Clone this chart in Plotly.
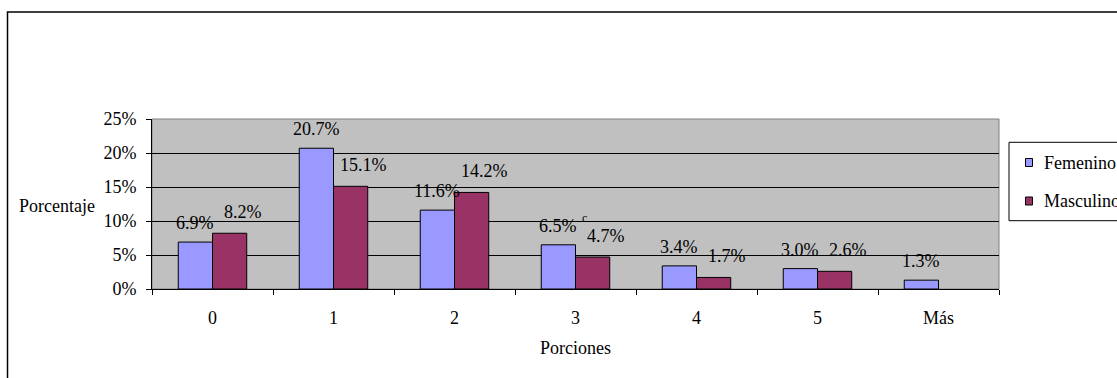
import plotly.graph_objects as go

categories = ["0", "1", "2", "3", "4", "5", "Más"]
femenino = [6.9, 20.7, 11.6, 6.5, 3.4, 3.0, 1.3]
masculino = [8.2, 15.1, 14.2, 4.7, 1.7, 2.6, None]
series_names = ["Femenino", "Masculino"]
y_ticks = [0, 5, 10, 15, 20, 25]
y_tick_labels = [f"{v}%" for v in y_ticks]

W, H = 1117, 378
L, R, T, B = 152, 118, 119, 89
PW, PH = W - L - R, H - T - B
FONT = "Liberation Serif, Times New Roman, serif"
FS = 18
C_FEM = "#9999FF"
C_MAS = "#993366"


def px_x(px):
    return (px - L) / PW


def px_y(py):
    return (H - B - py) / PH


fig = go.Figure()
fig.add_trace(go.Bar(x=categories, y=femenino, name=series_names[0],
                     marker=dict(color=C_FEM, line=dict(color="black", width=1)),
                     showlegend=False, hoverinfo="x+y"))
fig.add_trace(go.Bar(x=categories, y=masculino, name=series_names[1],
                     marker=dict(color=C_MAS, line=dict(color="black", width=1)),
                     showlegend=False, hoverinfo="x+y"))

bar_w = PW / len(categories) * (1 - 0.434) / 2
annotations = []
# (values, horizontal offset from category centre, vertical offset above bar top)
label_styles = ((femenino, -bar_w / 2, 19), (masculino, bar_w / 2 + 13, 21))
for vals, sh, ys in label_styles:
    for c, v in zip(categories, vals):
        if v is None:
            continue
        annotations.append(dict(x=c, y=v, xref="x", yref="y", text=f"{v:.1f}%",
                                showarrow=False, xshift=sh, yshift=ys,
                                yanchor="middle", font=dict(size=FS, color="black", family=FONT)))

# stray mark near category 3
annotations.append(dict(x="3", y=femenino[3], xref="x", yref="y", text="c", showarrow=False,
                        xshift=9, yshift=27, yanchor="middle",
                        font=dict(size=12, color="black", family=FONT)))

# axis titles
annotations.append(dict(x=0, y=px_y(206), xref="paper", yref="paper", text="Porcentaje",
                        showarrow=False, xanchor="right", xshift=-55, yanchor="middle",
                        font=dict(size=FS, color="black", family=FONT)))
annotations.append(dict(x=0.5, y=px_y(348), xref="paper", yref="paper", text="Porciones",
                        showarrow=False, xanchor="center", yanchor="middle",
                        font=dict(size=FS, color="black", family=FONT)))

# legend text
for name, cy in ((series_names[0], 162.5), (series_names[1], 201)):
    annotations.append(dict(x=px_x(1042), y=px_y(cy), xref="paper", yref="paper", text=name,
                            showarrow=False, xanchor="left", yanchor="middle",
                            font=dict(size=FS, color="black", family=FONT)))

shapes = [
    # plot area border (gray)
    dict(type="rect", xref="paper", yref="paper", x0=0, x1=1, y0=0, y1=1,
         line=dict(color="#808080", width=1), layer="below"),
    # outer chart border
    dict(type="rect", xref="paper", yref="paper", x0=px_x(7.5), x1=px_x(1200),
         y0=px_y(450), y1=px_y(12), line=dict(color="black", width=1.5)),
    # legend box
    dict(type="rect", xref="paper", yref="paper", x0=px_x(1009), x1=px_x(1200),
         y0=px_y(220.7), y1=px_y(142.3), line=dict(color="black", width=1),
         fillcolor="white"),
    dict(type="rect", xref="paper", yref="paper", x0=px_x(1025.5), x1=px_x(1032.5),
         y0=px_y(166.5), y1=px_y(158.5), line=dict(color="black", width=1), fillcolor=C_FEM),
    dict(type="rect", xref="paper", yref="paper", x0=px_x(1025.5), x1=px_x(1032.5),
         y0=px_y(205), y1=px_y(197), line=dict(color="black", width=1), fillcolor=C_MAS),
]

fig.update_layout(
    width=W, height=H,
    margin=dict(l=L, r=R, t=T, b=B, autoexpand=False),
    paper_bgcolor="white", plot_bgcolor="#C0C0C0",
    barmode="group", bargap=0.434, bargroupgap=0,
    font=dict(family=FONT, size=FS, color="black"),
    showlegend=False,
    annotations=annotations, shapes=shapes,
    xaxis=dict(type="category", tickson="boundaries", ticks="outside", ticklen=5,
               tickcolor="black", showline=True, linecolor="black", linewidth=1,
               showgrid=False, ticklabelstandoff=12, tickfont=dict(size=FS)),
    yaxis=dict(range=[0, 25], tickmode="array", tickvals=y_ticks, ticktext=y_tick_labels,
               ticks="outside", ticklen=5,
               tickcolor="black", showline=True, linecolor="black", linewidth=1,
               showgrid=True, gridcolor="black", gridwidth=1, zeroline=False,
               ticklabelstandoff=6, tickfont=dict(size=FS)),
)

fig.write_html("out.html", config={"displayModeBar": False},
               post_script="document.body.style.margin='0px';document.body.style.overflow='hidden';")
